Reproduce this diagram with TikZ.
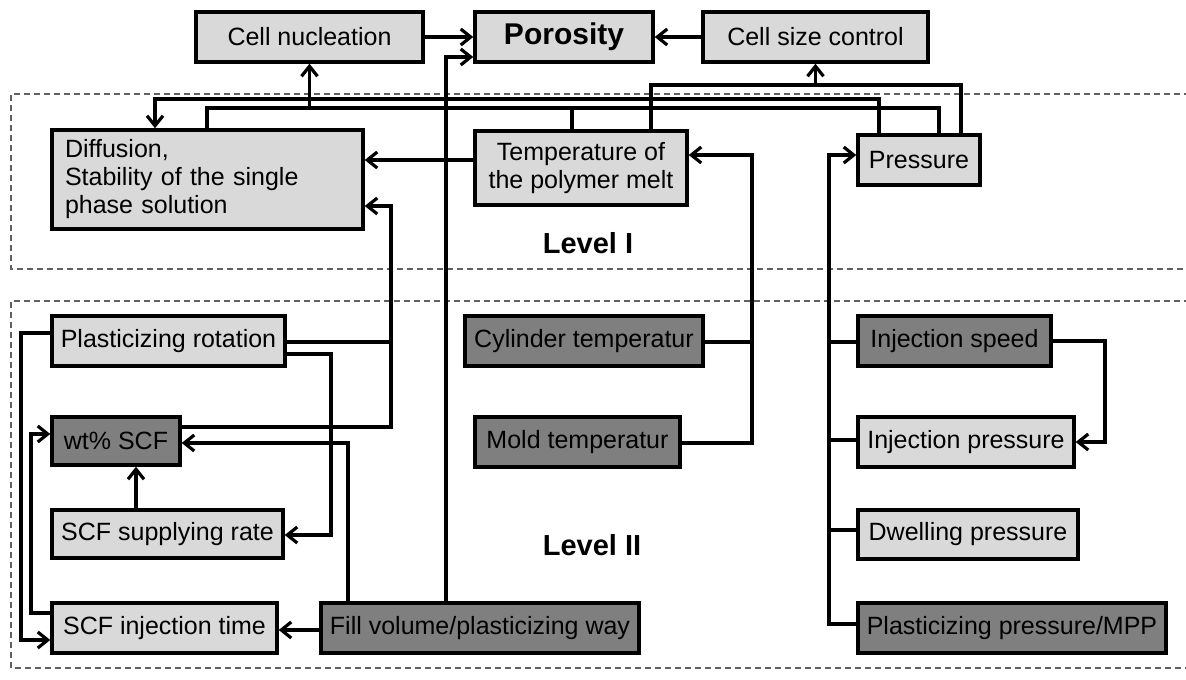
\documentclass[tikz,border=0pt]{standalone}
\usepackage{fontspec}
\setmainfont{Liberation Sans}
\usetikzlibrary{arrows.meta}
\definecolor{lightbox}{HTML}{D9D9D9}
\definecolor{darkbox}{HTML}{7F7F7F}
\definecolor{dashgrey}{HTML}{606060}
\begin{document}
\begin{tikzpicture}[x=1pt,y=-1pt,
 box/.style={draw=black, line width=3.4pt, inner sep=0pt, align=center, font=\fontsize{25}{28}\selectfont},
 lbox/.style={box, fill=lightbox},
 dbox/.style={box, fill=darkbox},
 conn/.style={line width=3.2pt, line join=miter},
 arr/.style={conn, -{Straight Barb[length=10pt,width=16pt,line width=3.2pt]}},
 lvl/.style={draw=dashgrey, line width=1.1pt, dash pattern=on 6pt off 4pt},
 lvltext/.style={font=\fontsize{29}{34}\selectfont\bfseries}]
\useasboundingbox (0,0) rectangle (1186,680);
\fill[white] (0,0) rectangle (1186,680);
% level frames
\draw[lvl] (1190,94) -- (11,94) -- (11,269) -- (1190,269);
\draw[lvl] (1190,301) -- (11,301) -- (11,668) -- (1190,668);
\node[lvltext] (lv1) at (588,243) {Level I};
\node[lvltext] (lv2) at (592,545) {Level II};
% boxes
\node[lbox, minimum width=227pt, minimum height=50pt] (cn) at (309.5,37) {Cell nucleation};
\node[lbox, minimum width=178pt, minimum height=50pt, font=\fontsize{30}{34}\selectfont\bfseries] (por) at (564,37) {Porosity};
\node[lbox, minimum width=225pt, minimum height=50pt] (csc) at (815.5,37) {Cell size control};
\node[lbox, minimum width=311pt, minimum height=99pt, text width=285pt, align=left] (dif) at (207.5,179.5) {Diffusion,\\Stability of the single\\phase solution};
\node[lbox, minimum width=212pt, minimum height=74pt] (tem) at (581,168) {Temperature of\\the polymer melt};
\node[lbox, minimum width=122pt, minimum height=50pt] (pre) at (919,160) {Pressure};
\node[lbox, minimum width=233pt, minimum height=50pt] (pr) at (168.5,341) {Plasticizing rotation};
\node[dbox, minimum width=128pt, minimum height=48pt] (wt) at (116,441) {wt\% SCF};
\node[lbox, minimum width=231pt, minimum height=48pt] (ssr) at (167.5,534) {SCF supplying rate};
\node[lbox, minimum width=225pt, minimum height=50pt] (sit) at (164.5,628) {SCF injection time};
\node[dbox, minimum width=318pt, minimum height=50pt] (fv) at (480,628) {Fill volume/plasticizing way};
\node[dbox, minimum width=238pt, minimum height=50pt] (cyl) at (584,341) {Cylinder temperatur};
\node[dbox, minimum width=205pt, minimum height=50pt] (mold) at (577.5,442) {Mold temperatur};
\node[dbox, minimum width=193pt, minimum height=50pt] (isp) at (954.5,341) {Injection speed};
\node[lbox, minimum width=216pt, minimum height=50pt] (ipr) at (966,442) {Injection pressure};
\node[lbox, minimum width=220pt, minimum height=49pt] (dwp) at (968,534.5) {Dwelling pressure};
\node[dbox, minimum width=308pt, minimum height=50pt] (ppm) at (1012,628) {Plasticizing pressure/MPP};
% top level connectors
\draw[arr] (cn.east) -- (por.west);
\draw[arr] (csc.west) -- (por.east);
\draw[arr] (fv.north -| 446,0) -- (446,57) -- (por.west |- 0,57);
% level I -> cell nucleation
\draw[conn] (dif.north -| 207,0) -- (207,108) -- (939,108) -- (pre.north -| 939,0);
\draw[conn] (tem.north -| 572,0) -- (572,108);
\draw[arr] (cn.south |- 0,108) -- (cn.south);
% pressure -> diffusion
\draw[arr] (pre.north -| 879,0) -- (879,99) -- (155,99) -- (dif.north -| 155,0);
% temperature, pressure -> cell size control
\draw[conn] (tem.north -| 651,0) -- (651,85) -- (961,85) -- (pre.north -| 961,0);
\draw[arr] (csc.south |- 0,85) -- (csc.south);
% temperature -> diffusion
\draw[arr] (tem.west |- 0,160) -- (dif.east |- 0,160);
% wt% SCF, plasticizing rotation -> diffusion
\draw[arr] (wt.east |- 0,427) -- (391,427) -- (391,206) -- (dif.east |- 0,206);
\draw[conn] (pr.east |- 0,342) -- (391,342);
% plasticizing rotation -> SCF supplying rate
\draw[arr] (pr.east |- 0,354) -- (331,354) -- (331,535) -- (ssr.east |- 0,535);
% plasticizing rotation -> SCF injection time
\draw[arr] (pr.west |- 0,333) -- (21,333) -- (21,640) -- (sit.west |- 0,640);
% SCF injection time -> wt% SCF
\draw[arr] (sit.west |- 0,613) -- (31,613) -- (31,434) -- (wt.west |- 0,434);
% SCF supplying rate -> wt% SCF
\draw[arr] (ssr.north -| 136,0) -- (wt.south -| 136,0);
% fill volume -> wt% SCF
\draw[arr] (fv.north -| 348,0) -- (348,443) -- (wt.east |- 0,443);
% fill volume -> SCF injection time
\draw[arr] (fv.west |- 0,630) -- (sit.east |- 0,630);
% cylinder, mold -> temperature
\draw[arr] (mold.east |- 0,443) -- (752,443) -- (752,155) -- (tem.east |- 0,155);
\draw[conn] (cyl.east |- 0,342) -- (752,342);
% right column -> pressure
\draw[arr] (ppm.west |- 0,624) -- (829,624) -- (829,155) -- (pre.west |- 0,155);
\draw[conn] (isp.west |- 0,342) -- (829,342);
\draw[conn] (ipr.west |- 0,440) -- (829,440);
\draw[conn] (dwp.west |- 0,530) -- (829,530);
% injection speed -> injection pressure
\draw[arr] (isp.east |- 0,341) -- (1105,341) -- (1105,442) -- (ipr.east |- 0,442);
\end{tikzpicture}
\end{document}
